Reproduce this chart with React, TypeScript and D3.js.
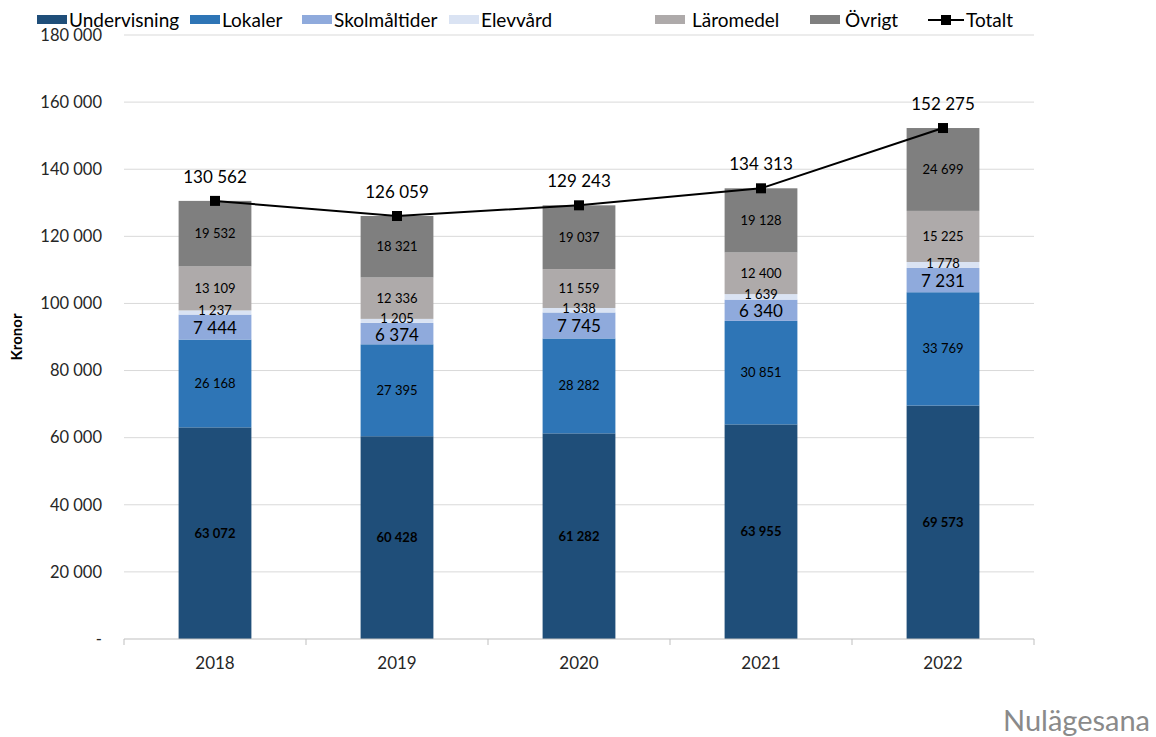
import React from "react";
import * as d3 from "d3";

const years = ["2018", "2019", "2020", "2021", "2022"];
const seriesNames = ["Undervisning", "Lokaler", "Skolmåltider", "Elevvård", "Läromedel", "Övrigt"];
const undervisning = [63072, 60428, 61282, 63955, 69573];
const lokaler = [26168, 27395, 28282, 30851, 33769];
const skolmaltider = [7444, 6374, 7745, 6340, 7231];
const elevvard = [1237, 1205, 1338, 1639, 1778];
const laromedel = [13109, 12336, 11559, 12400, 15225];
const ovrigt = [19532, 18321, 19037, 19128, 24699];
const totalt = [130562, 126059, 129243, 134313, 152275];
const yTicks = [0, 20000, 40000, 60000, 80000, 100000, 120000, 140000, 160000, 180000];

const colors = ["#1F4E79", "#2E75B6", "#8FAADC", "#DAE3F3", "#AEAAAA", "#7F7F7F"];
const labelSizes = [13, 13, 17, 13, 13, 13];
const labelWeights = [700, 400, 400, 400, 400, 400];
const labelShift = [0, 0, 1, -2, 0, 0];

const fmt = (v: number) => {
  const s = String(Math.round(v));
  return s.replace(/\B(?=(\d{3})+(?!\d))/g, "\u00a0");
};

export default function App() {
  const W = 1156, H = 737;
  const left = 124, right = 1034, top = 35, bottom = 639;
  const x = d3.scaleBand<string>().domain(years).range([left, right]).paddingInner(0.6).paddingOuter(0.3);
  const band = d3.scaleBand<string>().domain(years).range([left, right]);
  const y = d3.scaleLinear().domain([0, 180000]).range([bottom, top]);
  const all = [undervisning, lokaler, skolmaltider, elevvard, laromedel, ovrigt];
  const rows = years.map((yr, i) => {
    const r: any = { year: yr };
    seriesNames.forEach((n, k) => (r[n] = all[k][i]));
    return r;
  });
  const stacked = d3.stack<any>().keys(seriesNames)(rows);
  const line = d3
    .line<number>()
    .x((_, i) => band(years[i])! + band.bandwidth() / 2)
    .y((d) => y(d));
  const font = "Lato, 'Noto Sans', sans-serif";

  const legendItems = [
    { name: "Undervisning", sx: 37, tx: 69 },
    { name: "Lokaler", sx: 190, tx: 222 },
    { name: "Skolmåltider", sx: 302, tx: 334 },
    { name: "Elevvård", sx: 449, tx: 481 },
    { name: "Läromedel", sx: 655, tx: 692 },
    { name: "Övrigt", sx: 810, tx: 845 },
  ];

  return (
    <svg width={W} height={H} style={{ position: "absolute", left: 0, top: 0, background: "#fff" }} fontFamily={font}>
      {yTicks.slice(1).map((t) => (
        <line key={t} x1={left} x2={right} y1={y(t)} y2={y(t)} stroke="#d9d9d9" strokeWidth={1} />
      ))}
      {yTicks.map((t) => (
        <text key={t} x={102} y={y(t)} dy="0.35em" textAnchor="end" fontSize={16.5} fill="#262626">
          {t === 0 ? "-" : fmt(t)}
        </text>
      ))}
      <text transform={`translate(22,${(top + bottom) / 2}) rotate(-90)`} textAnchor="middle" fontSize={15} fontWeight={700} fill="#000">
        Kronor
      </text>
      {stacked.map((s, k) => (
        <g key={s.key}>
          {s.map((d, i) => (
            <rect key={i} x={x(years[i])} width={x.bandwidth()} y={y(d[1])} height={y(d[0]) - y(d[1])} fill={colors[k]} />
          ))}
        </g>
      ))}
      <line x1={left} x2={right} y1={bottom} y2={bottom} stroke="#bfbfbf" />
      {years.concat(["end"]).map((yr, i) => {
        const xx = left + i * band.bandwidth();
        return <line key={yr} x1={xx} x2={xx} y1={bottom} y2={bottom + 6} stroke="#bfbfbf" />;
      })}
      {years.map((yr) => (
        <text key={yr} x={band(yr)! + band.bandwidth() / 2} y={663} dy="0.35em" textAnchor="middle" fontSize={17} fill="#262626">
          {yr}
        </text>
      ))}
      {stacked.map((s, k) => (
        <g key={"l" + s.key}>
          {s.map((d, i) => (
            <text
              key={i}
              x={x(years[i])! + x.bandwidth() / 2}
              y={(y(d[0]) + y(d[1])) / 2 + labelShift[k]}
              dy="0.35em"
              textAnchor="middle"
              fontSize={labelSizes[k]}
              fontWeight={labelWeights[k]}
              fill="#000"
            >
              {fmt(d[1] - d[0])}
            </text>
          ))}
        </g>
      ))}
      <path d={line(totalt)!} fill="none" stroke="#000" strokeWidth={2} />
      {totalt.map((v, i) => {
        const cx = band(years[i])! + band.bandwidth() / 2;
        return (
          <g key={i}>
            <rect x={cx - 5} y={y(v) - 5} width={10} height={10} fill="#000" />
            <text x={cx} y={y(v) - 24} dy="0.35em" textAnchor="middle" fontSize={17} fill="#000">
              {fmt(v)}
            </text>
          </g>
        );
      })}
      {legendItems.map((it, k) => (
        <g key={it.name}>
          <rect x={it.sx} y={15} width={30} height={9} fill={colors[k]} />
          <text x={it.tx} y={20} dy="0.35em" fontSize={19} fill="#000">
            {it.name}
          </text>
        </g>
      ))}
      <line x1={928} x2={964} y1={20} y2={20} stroke="#000" strokeWidth={2} />
      <rect x={941} y={15} width={10} height={10} fill="#000" />
      <text x={966} y={20} dy="0.35em" fontSize={19} fill="#000">
        Totalt
      </text>
      <text x={1003} y={731} fontSize={29} fill="#8a8a8a">
        Nulägesana
      </text>
    </svg>
  );
}
